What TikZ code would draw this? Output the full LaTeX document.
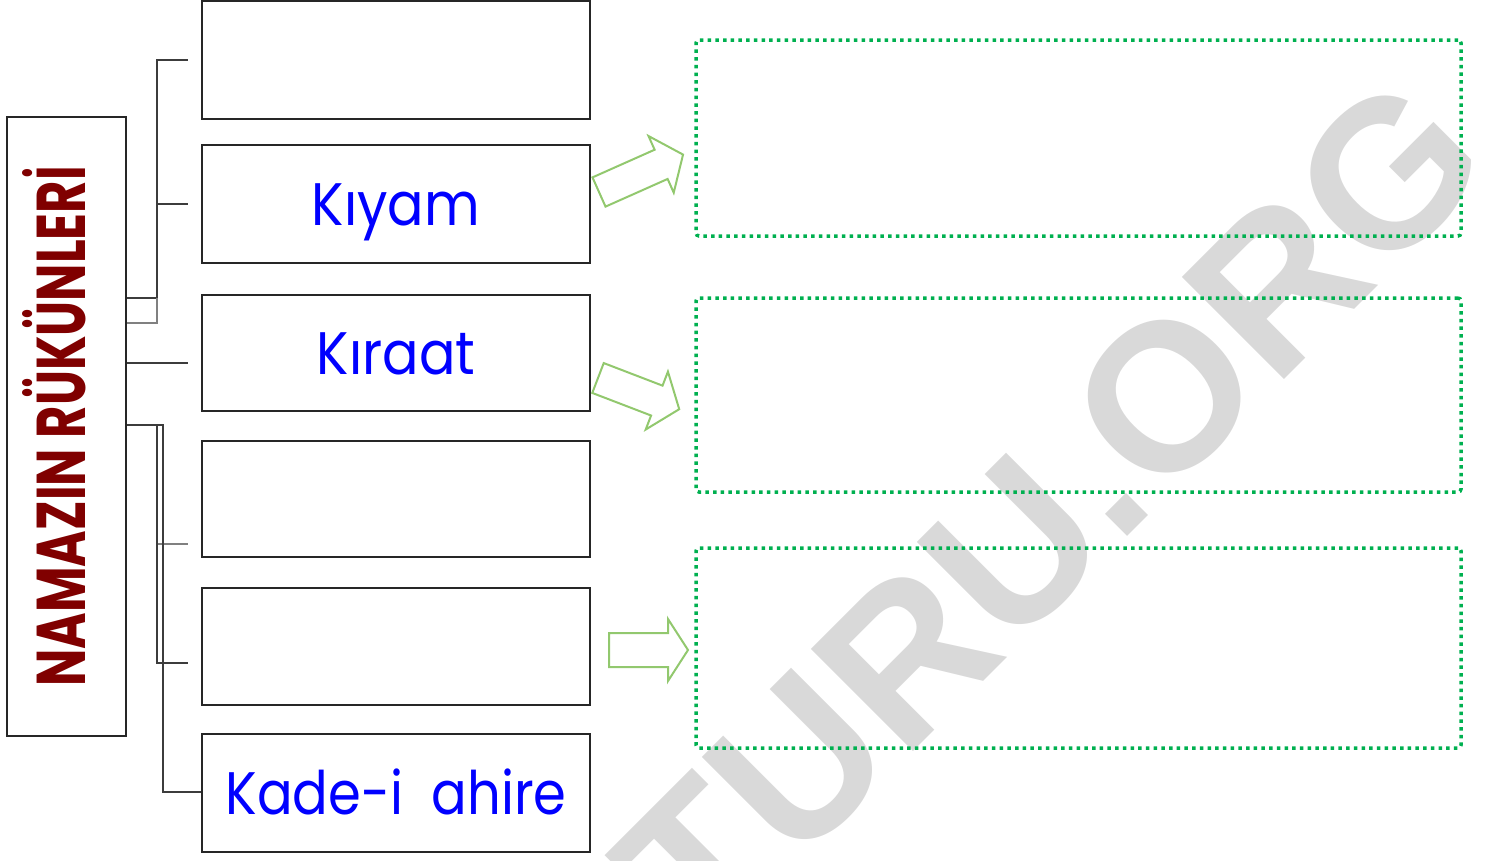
\documentclass[tikz,border=0pt]{standalone}
\usepackage{fontspec}
\usepackage{graphicx}
\usetikzlibrary{positioning}
\newfontfamily\kidfont{Poppins}
\newfontfamily\markfont{Liberation Sans}
\definecolor{rukunred}{RGB}{128,0,0}
\definecolor{rukunblue}{RGB}{0,0,255}
\definecolor{answergreen}{RGB}{0,176,80}
\definecolor{arrowgreen}{RGB}{146,200,110}
\definecolor{linkgray}{RGB}{60,60,60}
\tikzset{>=latex}
\tikzset{
  rukun/.style={draw=black!85, line width=2pt, minimum width=388pt, minimum height=118pt,
    inner sep=0pt, text height=42pt, text depth=0pt,
    font=\kidfont\fontsize{60}{60}\selectfont, text=rukunblue},
  titlebox/.style={draw=black!85, line width=2pt, minimum width=119pt, minimum height=619pt,
    inner sep=0pt, font=\kidfont\bfseries\fontsize{69}{69}\selectfont, text=rukunred},
  answer/.style={draw=answergreen, line width=3.5pt, dash pattern=on 3.5pt off 4.2pt,
    rounded corners=3pt, minimum width=765pt, inner sep=0pt},
  link/.style={draw=linkgray, line width=2pt},
  linklight/.style={draw=gray, line width=2pt},
  blockarrow/.style={draw=arrowgreen, line width=2pt, line join=miter}
}

\begin{document}
\begin{tikzpicture}[x=1pt, y=-1pt]
  \useasboundingbox (0,0) rectangle (1488,860);

  % watermark
  \begin{scope}
    \clip (0,0) rectangle (1488,860);
    \node[rotate=45, text=black!15, inner sep=0pt,
      font=\markfont\bfseries\fontsize{210}{210}\selectfont] (mark) at (1050,512) {TURU.ORG};
  \end{scope}

  % title and the six boxes
  \node[titlebox] (title) at (66.5,426.5)
    {\kern-24pt\rotatebox{90}{\scalebox{0.72}[1]{NAMAZIN RÜKÜNLERİ}}};
  \node[rukun] (box1) at (396,60) {};
  \node[rukun] (box2) at (396,204) {\scalebox{0.9}[1]{K\i yam}};
  \node[rukun, minimum height=116pt] (box3) at (396,353) {\scalebox{0.9}[1]{K\i raat}};
  \node[rukun, minimum height=116pt] (box4) at (396,499) {};
  \node[rukun, minimum height=117pt] (box5) at (396,646.5) {};
  \node[rukun] (box6) at (396,793) {\scalebox{0.88}[1]{Kade-i\ \ ahire}};

  % dotted answer boxes
  \node[answer, minimum height=196pt] (ans1) at (1078.5,138) {};
  \node[answer, minimum height=194pt] (ans2) at (1078.5,395) {};
  \node[answer, minimum height=200pt] (ans3) at (1078.5,648) {};

  % brackets
  \coordinate (busA) at (157,0);
  \coordinate (busB) at (163,0);
  \draw[link] (title.east |- 0,298) -| (busA |- box1.west) -- ([xshift=-13pt]box1.west);
  \draw[link] (busA |- box2.west) -- ([xshift=-13pt]box2.west);
  \draw[linklight] (title.east |- 0,323) -| (busA |- 0,298);
  \draw[link] (title.east |- 0,363) -- ([xshift=-13pt]box3.west |- 0,363);

  \draw[linklight] (busA |- 0,544) -- ([xshift=-13pt]box4.west |- 0,544);
  \draw[link] (title.east |- 0,425) -| (busA |- 0,663) -- ([xshift=-13pt]box5.west |- 0,663);
  \draw[link] (title.east |- 0,425) -| (busB |- 0,792) -- (box6.west |- 0,792);

  % block arrows
  \draw[blockarrow, shift={([xshift=8pt,yshift=12pt]box2.east)}, rotate=24]
    (0,-16) -- (68,-16) -- (68,-31) -- (92,0) -- (68,31) -- (68,16) -- (0,16) -- cycle;
  \draw[blockarrow, shift={([xshift=7pt,yshift=-25pt]box3.east)}, rotate=-21]
    (0,-16) -- (63,-16) -- (63,-31) -- (87,0) -- (63,31) -- (63,16) -- (0,16) -- cycle;
  \draw[blockarrow, shift={([xshift=18pt,yshift=-3.5pt]box5.east)}]
    (0,-17) -- (59,-17) -- (59,-31) -- (79,0) -- (59,31) -- (59,17) -- (0,17) -- cycle;
\end{tikzpicture}
\end{document}
